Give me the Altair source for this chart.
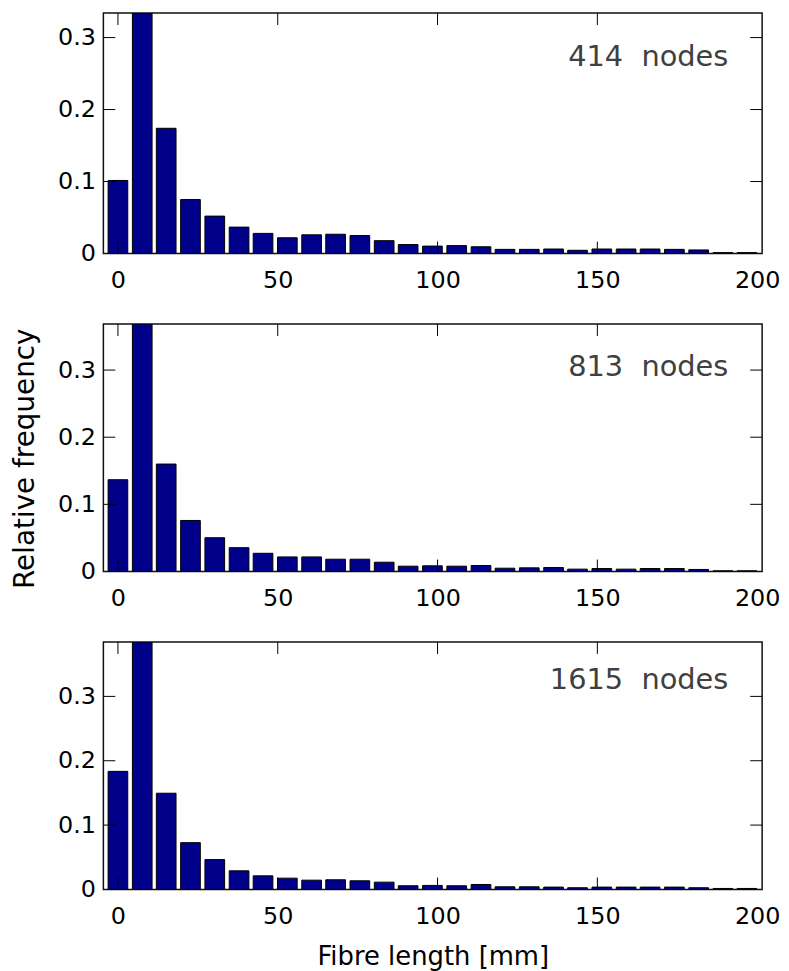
import altair as alt
import pandas as pd

# Bin centres of the fibre-length histogram [mm]
bin_centers = [0, 7.6, 15.1, 22.7, 30.3, 37.9, 45.4, 53.0, 60.6, 68.1, 75.7, 83.3, 90.8,
               98.4, 106.0, 113.6, 121.1, 128.7, 136.3, 143.8, 151.4, 159.0, 166.5,
               174.1, 181.7, 189.3, 196.8]

# Relative frequencies per mesh resolution
freq_414 = [0.1015, 0.334, 0.174, 0.075, 0.052, 0.0367, 0.028, 0.0219, 0.026, 0.0268,
            0.025, 0.0179, 0.0125, 0.0103, 0.011, 0.0094, 0.0058, 0.0058, 0.0063,
            0.0045, 0.0063, 0.0063, 0.0063, 0.0058, 0.005, 0.0013, 0.0013]
freq_813 = [0.1367, 0.3685, 0.160, 0.076, 0.0503, 0.0355, 0.0271, 0.0217, 0.0217,
            0.0183, 0.0183, 0.0138, 0.0079, 0.0084, 0.0079, 0.0089, 0.0049, 0.0054,
            0.0059, 0.0035, 0.0044, 0.0035, 0.0044, 0.0044, 0.003, 0.001, 0.001]
freq_1615 = [0.1835, 0.3845, 0.1495, 0.0727, 0.0464, 0.0289, 0.0211, 0.0175, 0.0144,
             0.015, 0.0134, 0.0113, 0.0057, 0.0062, 0.0057, 0.0077, 0.0041, 0.0041,
             0.0036, 0.0026, 0.0036, 0.0036, 0.0036, 0.0036, 0.0026, 0.0015, 0.0015]

node_labels = ["414\u00a0\u00a0nodes", "813\u00a0\u00a0nodes", "1615\u00a0\u00a0nodes"]
y_tops = [0.334, 0.3685, 0.3845]

x_tick_values = [0, 50, 100, 150]
x_label_values = [0, 50, 100, 150, 200]
y_tick_values = [0.1, 0.2, 0.3]
y_label_values = [0, 0.1, 0.2, 0.3]
x_domain = [-3, 200]

FONT = "DejaVu Sans"
W = 663
TICK = 12


def panel(freqs, label, ymax, h, text_y, x_title, y_title):
    df = pd.DataFrame({"center": bin_centers, "freq": freqs})
    xs = alt.Scale(domain=x_domain, nice=False, zero=False)
    ys = alt.Scale(domain=[0, ymax], nice=False, zero=True)

    x_axis = alt.Axis(values=x_label_values, labelFlush=False, labelPadding=15,
                      ticks=False, domain=False, grid=False, labelFontSize=24,
                      titleFontSize=26, titlePadding=16, labelOverlap=False)
    y_axis = alt.Axis(values=y_label_values, labelPadding=8, ticks=False, domain=False,
                      grid=False, labelFontSize=24, titleFontSize=28, titlePadding=18,
                      titleY=135,
                      labelExpr="datum.value == 0 ? '0' : format(datum.value, '.1f')",
                      labelOverlap=False)

    def X(field):
        return alt.X(field, scale=xs, axis=x_axis, title=x_title)

    def Y(field):
        return alt.Y(field, scale=ys, axis=y_axis, title=y_title)

    bars = alt.Chart(df).mark_bar(size=19.8, fill="#00008B", stroke="black",
                                  strokeWidth=1, clip=True).encode(
        x=X("center:Q"), y=Y("freq:Q"))

    ydf = pd.DataFrame({"freq": y_tick_values})
    xdf = pd.DataFrame({"center": x_tick_values})
    tl = alt.Chart(ydf).mark_rule(color="black", strokeWidth=1).encode(
        y=Y("freq:Q"), x=alt.value(0), x2=alt.value(TICK))
    tr = alt.Chart(ydf).mark_rule(color="black", strokeWidth=1).encode(
        y=Y("freq:Q"), x=alt.value(W - TICK), x2=alt.value(W))
    tt = alt.Chart(xdf).mark_rule(color="black", strokeWidth=1).encode(
        x=X("center:Q"), y=alt.value(0), y2=alt.value(TICK))
    tb = alt.Chart(xdf).mark_rule(color="black", strokeWidth=1).encode(
        x=X("center:Q"), y=alt.value(h - TICK), y2=alt.value(h))

    txt = alt.Chart(pd.DataFrame({"label": [label]})).mark_text(
        align="right", baseline="alphabetic", font=FONT, fontSize=29, color="#404040"
    ).encode(text="label:N", x=alt.value(629), y=alt.value(text_y))

    return alt.layer(bars, tl, tr, tt, tb, txt).properties(width=W, height=h)


p1 = panel(freq_414, node_labels[0], y_tops[0], 242, 53, None, None)
p2 = panel(freq_813, node_labels[1], y_tops[1], 249, 52, None, "Relative frequency")
p3 = panel(freq_1615, node_labels[2], y_tops[2], 249, 47, "Fibre length [mm]", None)

chart = alt.vconcat(p1, p2, p3, spacing=71, bounds="flush").properties(
    padding={"left": 3, "top": 0, "right": 0, "bottom": 0}
).configure_view(stroke="#111", strokeWidth=1.5).configure_axis(
    labelFont=FONT, titleFont=FONT, labelColor="black", titleColor="black",
    titleFontWeight="normal"
)

chart.save("out.html", embed_options={"renderer": "svg", "actions": False})
